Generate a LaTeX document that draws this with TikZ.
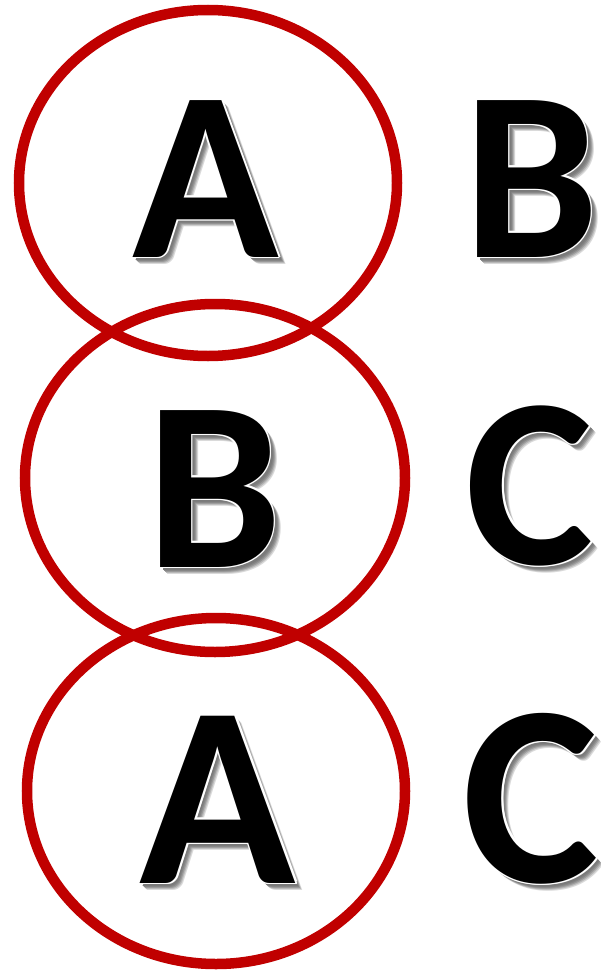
\documentclass[tikz,border=0pt]{standalone}
\usepackage{fontspec}
\setmainfont{Carlito}
\definecolor{ringred}{HTML}{C00000}
\newcommand\glyphfx[1]{%
  \rlap{\kern7pt\raisebox{-7pt}{\color{black!15}#1}}%
  \rlap{\kern6pt\raisebox{-6pt}{\color{black!28}#1}}%
  \rlap{\kern5pt\raisebox{-5pt}{\color{black!40}#1}}%
  \rlap{\kern4pt\raisebox{-4pt}{\color{black!48}#1}}%
  \rlap{\kern3pt\raisebox{-3pt}{\color{black!52}#1}}%
  \rlap{\kern1.8pt{\color{white}#1}}%
  \rlap{\kern-1.8pt{\color{white}#1}}%
  \rlap{\raisebox{1.8pt}{\color{white}#1}}%
  \rlap{\raisebox{-1.8pt}{\color{white}#1}}%
  \rlap{\kern1.3pt\raisebox{1.3pt}{\color{white}#1}}%
  \rlap{\kern1.3pt\raisebox{-1.3pt}{\color{white}#1}}%
  \rlap{\kern-1.3pt\raisebox{1.3pt}{\color{white}#1}}%
  \rlap{\kern-1.3pt\raisebox{-1.3pt}{\color{white}#1}}%
  {\color{black}#1}}
\tikzset{
  ring/.style={draw=ringred, line width=10.5pt},
  bigletter/.style={inner sep=0pt, anchor=base, font=\fontsize{242}{242}\bfseries\selectfont},
  bigletterL/.style={inner sep=0pt, anchor=base, font=\fontsize{258}{258}\bfseries\selectfont}
}
\begin{document}
\begin{tikzpicture}[x=1pt,y=-1pt]
\fill[white] (0,0) rectangle (600,971);
\useasboundingbox (0,0) rectangle (600,971);
\draw[ring] (208,183) ellipse [x radius=189pt, y radius=173pt];
\draw[ring] (215,478) ellipse [x radius=190pt, y radius=174pt];
\draw[ring] (216,791) ellipse [x radius=189pt, y radius=173pt];
\node[bigletter] (a1) at (206,257) {\glyphfx{A}};
\node[bigletter] (b1) at (531,257) {\glyphfx{B}};
\node[bigletter] (b2) at (214,567) {\glyphfx{B}};
\node[bigletter] (c2) at (530,564) {\glyphfx{C}};
\node[bigletterL] (a3) at (218,883) {\glyphfx{A}};
\node[bigletterL] (c3) at (531,882) {\glyphfx{C}};
\end{tikzpicture}
\end{document}
